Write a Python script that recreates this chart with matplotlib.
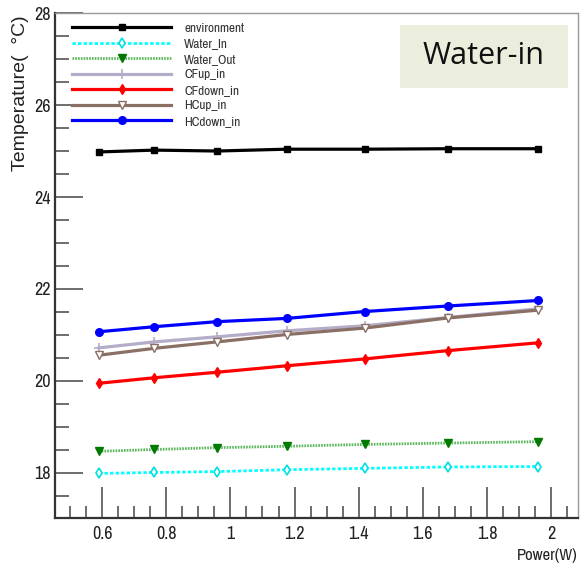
import matplotlib
matplotlib.use('Agg')
import matplotlib.pyplot as plt
from matplotlib.patches import Rectangle
from matplotlib.ticker import MultipleLocator, FormatStrFormatter
from matplotlib import font_manager

# schmale Schrift suchen, falls vorhanden
names = sorted({f.name for f in font_manager.fontManager.ttflist})
narrow = [n for n in names if 'Narrow' in n or 'Condensed' in n]
base = narrow[:1] + ['Liberation Sans', 'DejaVu Sans']
plt.rcParams['font.family'] = base

# Daten
power = [0.59, 0.763, 0.959, 1.175, 1.419, 1.678, 1.96]
environment = [24.98, 25.02, 25.00, 25.04, 25.04, 25.05, 25.05]
water_in = [17.99, 18.01, 18.03, 18.07, 18.10, 18.13, 18.14]
water_out = [18.47, 18.51, 18.55, 18.58, 18.62, 18.65, 18.68]
cfup_in = [20.72, 20.85, 20.96, 21.09, 21.20, 21.38, 21.57]
cfdown_in = [19.95, 20.07, 20.19, 20.33, 20.48, 20.66, 20.83]
hcup_in = [20.56, 20.71, 20.85, 21.01, 21.15, 21.37, 21.54]
hcdown_in = [21.07, 21.18, 21.29, 21.36, 21.51, 21.63, 21.75]

fig = plt.figure(figsize=(5.87, 5.68), dpi=100)
ax = fig.add_axes([0.0937, 0.088, 0.891, 0.889])

ax.plot(power, environment, color='black', lw=2.3, marker='s', ms=5, label='environment')
ax.plot(power, water_in, color='#00FFFF', lw=2.0, ls=(0, (1.2, 0.8)), marker='d', ms=5,
        mfc='white', mec='#00E0E0', mew=1.2, label='Water_In')
ax.plot(power, water_out, color='#5CB85C', lw=2.0, ls=(0, (0.6, 0.4)), marker='v', ms=6,
        mfc='#007A00', mec='#007A00', label='Water_Out')
ax.plot(power, cfup_in, color='#B4ACC8', lw=2.3, marker='+', ms=7, mew=1.2, label='CFup_in')
ax.plot(power, cfdown_in, color='#FF0000', lw=2.3, marker='d', ms=5, label='CFdown_in')
ax.plot(power, hcup_in, color='#8A7064', lw=2.3, marker='v', ms=6, mfc='white',
        mec='#8A7064', mew=1.0, label='HCup_in')
ax.plot(power, hcdown_in, color='#0000FF', lw=2.3, marker='o', ms=5.5, label='HCdown_in')

ax.set_xlim(0.453, 2.084)
ax.set_ylim(17.02, 28)

ax.xaxis.set_major_locator(MultipleLocator(0.2))
ax.xaxis.set_minor_locator(MultipleLocator(0.05))
ax.yaxis.set_major_locator(MultipleLocator(2))
ax.yaxis.set_minor_locator(MultipleLocator(0.5))
ax.xaxis.set_major_formatter(FormatStrFormatter('%g'))

ax.tick_params(axis='both', which='both', direction='in', colors='#555555',
               labelcolor='#222222', labelsize=13)
ax.tick_params(axis='y', which='major', length=20, width=1.2, pad=3)
ax.tick_params(axis='y', which='minor', length=10, width=1.2)
ax.tick_params(axis='x', which='major', length=22, width=1.2, pad=6)
ax.tick_params(axis='x', which='minor', length=9, width=1.2)

for side in ['left', 'bottom']:
    ax.spines[side].set_color('#333333')
    ax.spines[side].set_linewidth(1.6)
for side in ['top', 'right']:
    ax.spines[side].set_color('#999999')
    ax.spines[side].set_linewidth(1.0)

ax.set_ylabel('Temperature(  °C)', fontsize=14, color='#222222', loc='top',
              family=['Liberation Sans', 'DejaVu Sans'])
ax.yaxis.set_label_coords(-0.05, 0.995)
ax.set_xlabel('Power(W)', fontsize=12, color='#222222', loc='right')
ax.xaxis.set_label_coords(1.0, -0.06)

leg = ax.legend(loc='upper left', bbox_to_anchor=(0.015, 1.0), frameon=False,
                fontsize=9.5, handlelength=7.5, handletextpad=1.0, labelspacing=0.33,
                borderaxespad=0.3)
for t in leg.get_texts():
    t.set_color('#333333')

fig.patches.append(Rectangle((0.681, 0.845), 0.286, 0.111, transform=fig.transFigure,
                             facecolor='#EBEEDD', edgecolor='none', zorder=5))
fig.text(0.8245, 0.901, 'Water-in', fontsize=22, ha='center', va='center',
         family=['Open Sans', 'DejaVu Sans'], color='#111111', zorder=6)

plt.savefig('out.png', dpi=100)
plt.close()
